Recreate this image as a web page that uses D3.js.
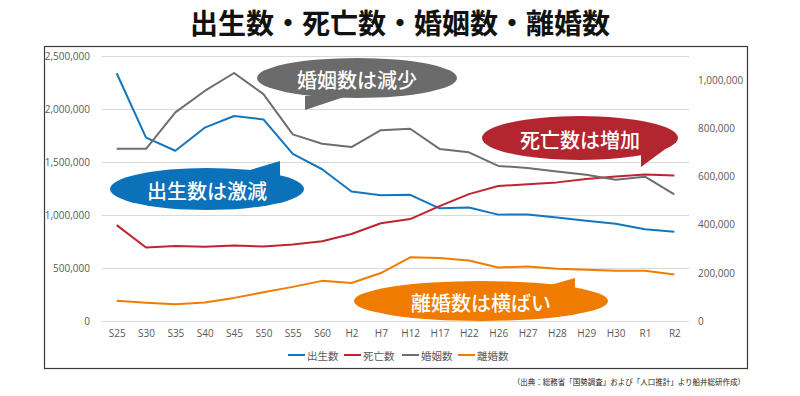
<!DOCTYPE html>
<html>
<head>
<meta charset="utf-8">
<script src="https://cdn.jsdelivr.net/npm/d3@7"></script>
<style>
  body { margin: 0; background: #fff; }
  svg { display: block; }
  .tick text { fill: #595959; }
</style>
</head>
<body>
<div id="chart"></div>
<script>
// data
const years = ["S25", "S30", "S35", "S40", "S45", "S50", "S55", "S60", "H2", "H7",
  "H12", "H17", "H22", "H26", "H27", "H28", "H29", "H30", "R1", "R2"];
const births = [2337507, 1730692, 1606041, 1823697, 1934239, 1901440, 1576889, 1431577, 1221585, 1187064,
  1190547, 1062530, 1071304, 1003539, 1005677, 976978, 946146, 918400, 865239, 840835];
const deaths = [904876, 693523, 706599, 700438, 712962, 702275, 722801, 752283, 820305, 922139,
  961653, 1083796, 1197014, 1273025, 1290510, 1307748, 1340567, 1362470, 1381093, 1372755];
const marriages = [715081, 714861, 866115, 954852, 1029405, 941628, 774702, 735850, 722138, 791888,
  798138, 714265, 700222, 643749, 635156, 620531, 606952, 586481, 599007, 525507];
const divorces = [83689, 75267, 69410, 77195, 95937, 119135, 141689, 166640, 157608, 199016,
  264246, 261917, 251379, 222107, 226215, 216856, 212296, 208333, 208496, 193253];
const leftTicks = [0, 500000, 1000000, 1500000, 2000000, 2500000];
const rightTicks = [0, 200000, 400000, 600000, 800000, 1000000];

const title = "出生数・死亡数・婚姻数・離婚数";
const source = "（出典：総務省「国勢調査」および「人口推計」より船井総研作成）";

const series = [
  {name: "出生数", values: births, axis: "left", color: "#1575bd"},
  {name: "死亡数", values: deaths, axis: "left", color: "#bf2430"},
  {name: "婚姻数", values: marriages, axis: "right", color: "#6e6e6e"},
  {name: "離婚数", values: divorces, axis: "right", color: "#f07d00"}
];

const W = 800, H = 396;
const plot = {left: 102, right: 689, top: 56, bottom: 321};
const jp = "'Noto Sans CJK JP', sans-serif";
const num = "'Open Sans', 'Noto Sans', sans-serif";

const svg = d3.select("#chart").append("svg")
  .attr("width", W)
  .attr("height", H);

svg.append("text")
  .attr("x", W / 2)
  .attr("y", 22)
  .attr("text-anchor", "middle")
  .attr("dominant-baseline", "central")
  .style("font", `bold 28px ${jp}`)
  .style("fill", "#111")
  .text(title);

// frame
svg.append("rect")
  .attr("x", 44.5).attr("y", 46.5)
  .attr("width", 703).attr("height", 322)
  .attr("fill", "none")
  .attr("stroke", "#3a3a3a")
  .attr("stroke-width", 1.2);

const x = d3.scalePoint().domain(years).range([plot.left, plot.right]).padding(0.5);
const yL = d3.scaleLinear().domain([0, 2500000]).range([plot.bottom, plot.top]);
const yR = d3.scaleLinear().domain([0, 1100000]).range([plot.bottom, plot.top]);

// gridlines
svg.append("g")
  .selectAll("line")
  .data(leftTicks)
  .enter().append("line")
  .attr("x1", plot.left).attr("x2", plot.right)
  .attr("y1", d => yL(d) + 0.5).attr("y2", d => yL(d) + 0.5)
  .attr("stroke", "#d9d9d9")
  .attr("stroke-width", 1.2);

const fmt = d3.format(",");

const axL = svg.append("g")
  .attr("transform", `translate(${plot.left - 12},0)`)
  .call(d3.axisLeft(yL).tickValues(leftTicks).tickFormat(fmt).tickSize(0).tickPadding(0));
const axR = svg.append("g")
  .attr("transform", `translate(${plot.right + 9},0)`)
  .call(d3.axisRight(yR).tickValues(rightTicks).tickFormat(fmt).tickSize(0).tickPadding(0));
const axX = svg.append("g")
  .attr("transform", `translate(0,${plot.bottom + 9})`)
  .call(d3.axisBottom(x).tickSize(0).tickPadding(0));

[axL, axR, axX].forEach(a => {
  a.select(".domain").remove();
  a.selectAll("text").style("font", `10px ${num}`).attr("fill", "#595959");
});
axX.selectAll("text").attr("dy", "0.71em");

// lines
const line = d3.line();
series.forEach(s => {
  const y = s.axis === "left" ? yL : yR;
  svg.append("path")
    .datum(s.values)
    .attr("fill", "none")
    .attr("stroke", s.color)
    .attr("stroke-width", 2)
    .attr("stroke-linejoin", "round")
    .attr("d", line.x((d, i) => x(years[i])).y(d => y(d)));
});

// callouts
const callouts = [
  {text: "婚姻数は減少", color: "#6b6b6b", cx: 357, cy: 78, rx: 100, ry: 20,
    tail: [[305, 96], [350, 95], [305, 110]]},
  {text: "死亡数は増加", color: "#b3252f", cx: 580, cy: 138, rx: 98, ry: 22,
    tail: [[641, 152], [668, 147], [641, 167]]},
  {text: "出生数は激減", color: "#0b71b8", cx: 207, cy: 189, rx: 97, ry: 21,
    tail: [[240, 173], [280, 176], [280, 161]]},
  {text: "離婚数は横ばい", color: "#ef7b00", cx: 481, cy: 301, rx: 127, ry: 20,
    tail: [[540, 288], [575, 292], [575, 278]]}
];

const cg = svg.append("g")
  .selectAll("g")
  .data(callouts)
  .enter().append("g");

cg.append("polygon")
  .attr("points", d => d.tail.map(p => p.join(",")).join(" "))
  .attr("fill", d => d.color);
cg.append("ellipse")
  .attr("cx", d => d.cx).attr("cy", d => d.cy)
  .attr("rx", d => d.rx).attr("ry", d => d.ry)
  .attr("fill", d => d.color);
cg.append("text")
  .attr("x", d => d.cx)
  .attr("y", d => d.cy + 1)
  .attr("text-anchor", "middle")
  .attr("dominant-baseline", "central")
  .style("font", `500 20px ${jp}`)
  .style("fill", "#fff")
  .text(d => d.text);

// legend
const legendX = [288, 344, 402, 458];
const lg = svg.append("g")
  .selectAll("g")
  .data(series)
  .enter().append("g")
  .attr("transform", (d, i) => `translate(${legendX[i]},355)`);
lg.append("line")
  .attr("x1", 0).attr("x2", 17)
  .attr("stroke", d => d.color)
  .attr("stroke-width", 2);
lg.append("text")
  .attr("x", 19)
  .attr("dominant-baseline", "central")
  .style("font", `10.5px ${jp}`)
  .style("fill", "#595959")
  .text(d => d.name);

svg.append("text")
  .attr("x", 745)
  .attr("y", 381)
  .attr("text-anchor", "end")
  .attr("dominant-baseline", "central")
  .style("font", `7.5px ${jp}`)
  .style("fill", "#222")
  .text(source);
</script>
</body>
</html>
